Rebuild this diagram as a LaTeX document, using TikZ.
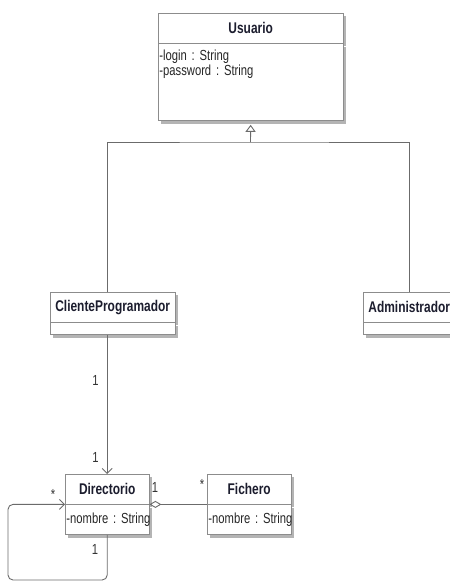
\documentclass[tikz,border=0pt]{standalone}
\usepackage{fontspec}
\setmainfont[FakeStretch=0.77]{Liberation Sans}
\usepackage{tikz}
\usetikzlibrary{arrows.meta,shadows,positioning}
\definecolor{umlline}{HTML}{6B6B6B}
\definecolor{umlbox}{HTML}{8C8C8C}
\definecolor{umlshadow}{HTML}{B4B4B4}
\definecolor{umltext}{HTML}{1C1D2E}
\frenchspacing
\newcommand\attrfont{\fontsize{14.6}{15}\selectfont\spaceskip=3.3pt plus 1pt\relax}
\tikzset{
  classname/.style={draw=umlbox, fill=white, anchor=north west, inner sep=0pt,
    minimum height=30pt, text=umltext, font=\fontsize{15.5}{17}\selectfont\bfseries,
    drop shadow={shadow xshift=3pt, shadow yshift=-3pt, fill=umlshadow, opacity=1}},
  classattr/.style={draw=umlbox, fill=white, anchor=north west, inner xsep=1.2pt,
    inner ysep=0pt, align=left, text=black!85, font=\attrfont,
    drop shadow={shadow xshift=3pt, shadow yshift=-3pt, fill=umlshadow, opacity=1}},
  link/.style={draw=umlline, line width=0.9pt},
  mult/.style={font=\fontsize{14.6}{15}\selectfont, text=black!80, inner sep=0pt},
}

\begin{document}
\begin{tikzpicture}[x=1pt, y=-1pt]
    \useasboundingbox (0,0) rectangle (450,582);
    \clip (0,0) rectangle (450,582);

    \node[classname, minimum width=185pt] (usuario) at (158,13) {Usuario};
    \node[classattr, text width=182.6pt, text height=11pt, text depth=54pt, inner ysep=6pt]
      (usuarioA) at (usuario.south west) {-login : String\\-password : String};

    \node[classname, minimum width=125pt] (cliente) at (50,292) {ClienteProgramador};
    \node[classattr, text width=122.6pt, minimum height=12pt] (clienteA) at (cliente.south west) {};

    \node[classname, minimum width=92pt] (admin) at (363,292) {Administrador};
    \node[classattr, text width=89.6pt, minimum height=12pt] (adminA) at (admin.south west) {};

    \node[classname, minimum width=84pt] (dir) at (65,474) {Directorio};
    \node[classattr, text width=81.6pt, minimum height=30pt] (dirA) at (dir.south west)
      {\mbox{-nombre : String}};

    \node[classname, minimum width=84pt] (fich) at (207,474) {Fichero};
    \node[classattr, text width=81.6pt, minimum height=30pt] (fichA) at (fich.south west)
      {\mbox{-nombre : String}};

    \coordinate (gen) at (250.5,142);
    \coordinate (loop) at (8,580);

    \draw[link, -{Triangle[open, length=7pt, width=10pt]}, shorten >=4pt] (gen) -- (usuarioA.south);
    \draw[link] (cliente.north -| dir.north) |- (gen) -| (admin.north);

    \draw[link, -{Straight Barb[length=5pt, width=10pt]}] (clienteA.south -| dir.north) -- (dir.north)
      node[mult, pos=0.33, left=8pt] (m1) {1}
      node[mult, pos=0.88, left=8pt] (m2) {1};

    \draw[link, rounded corners=5pt, -{Straight Barb[length=5pt, width=10pt]}]
      (dirA.south) |- (loop) |- (dirA.north west);
    \node[mult] (m3) at (95,549) {1};
    \node[mult] (m4) at (53,494) {*};

    \draw[link, {Diamond[open, length=12pt, width=7pt]}-] (dirA.north east) -- (fichA.north west);
    \node[mult] (m5) at (155,487) {1};
    \node[mult] (m6) at (202,484) {*};
\end{tikzpicture}
\end{document}
